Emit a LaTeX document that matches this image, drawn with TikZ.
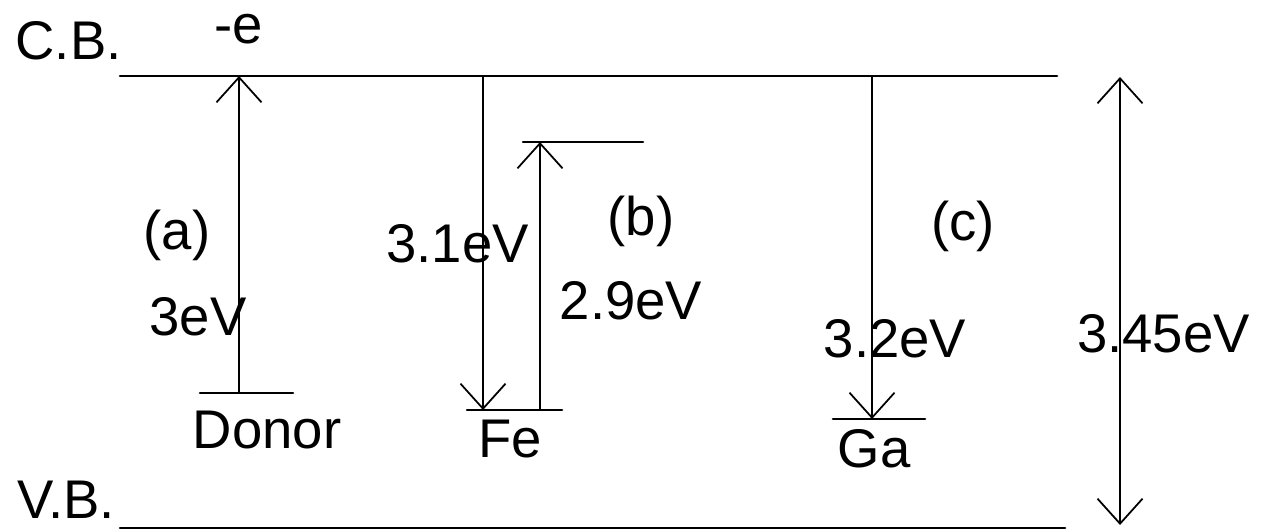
\documentclass[tikz,border=0pt]{standalone}
\usepackage{fontspec}
\setmainfont{Liberation Sans}
\usetikzlibrary{arrows.meta}
\begin{document}
\begin{tikzpicture}[line join=round,line cap=round,>={Straight Barb[length=5mm,width=9mm]},font=\fontsize{31}{36}\selectfont]
		\tikzset{every node/.style={inner sep=0pt,anchor=base}}
		\tikzset{level/.style={line width=1.5pt},trans/.style={->,line width=1pt}}
		\useasboundingbox (0,0) rectangle (25.5,10.62);
		% bands
		\coordinate (cbL) at (2.4,9.1); \coordinate (cbR) at (21.14,9.1);
		\coordinate (vbL) at (2.4,0.06); \coordinate (vbR) at (21.3,0.06);
		\draw[level] (cbL)--(cbR);
		\draw[level] (vbL)--(vbR);
		\node (cb) at (1.37,9.42) {C.B.};
		\node (vb) at (1.32,0.26) {V.B.};
		\node (el) at (4.78,9.74) {-e};
		% (a) donor
		\coordinate (dL) at (4,2.76); \coordinate (dR) at (5.86,2.76);
		\coordinate (aA) at (4.78,2.76);
		\draw[level] (dL)--(dR);
		\draw[trans] (aA)--(aA |- cbL);
		\node (a) at (3.54,5.62) {(a)};
		\node (ea) at (3.96,3.92) {3eV};
		\node (donor) at (5.34,1.66) {Donor};
		% (b) Fe
		\coordinate (feL) at (9.34,2.42); \coordinate (feR) at (11.24,2.42);
		\coordinate (upL) at (10.46,7.78); \coordinate (upR) at (12.86,7.78);
		\coordinate (bA) at (9.66,2.42); \coordinate (bB) at (10.8,2.42);
		\draw[level] (feL)--(feR);
		\draw[level] (upL)--(upR);
		\draw[trans] (bA |- cbL)--(bA);
		\draw[trans] (bB)--(bB |- upL);
		\node (b) at (12.82,5.9) {(b)};
		\node (eb1) at (9.15,5.36) {3.1eV};
		\node (eb2) at (12.62,4.22) {2.9eV};
		\node (fe) at (10.2,1.48) {Fe};
		% (c) Ga
		\coordinate (gaL) at (16.66,2.24); \coordinate (gaR) at (18.5,2.24);
		\coordinate (cA) at (17.44,2.24);
		\draw[level] (gaL)--(gaR);
		\draw[trans] (cA |- cbL)--(cA);
		\node (c) at (19.26,5.8) {(c)};
		\node (ec) at (17.9,3.48) {3.2eV};
		\node (ga) at (17.48,1.28) {Ga};
		% gap
		\coordinate (gapT) at (22.4,9.08); \coordinate (gapB) at (22.4,0.12);
		\draw[trans,<->] (gapB)--(gapT);
		\node (eg) at (23.27,3.58) {3.45eV};
	\end{tikzpicture}
\end{document}
